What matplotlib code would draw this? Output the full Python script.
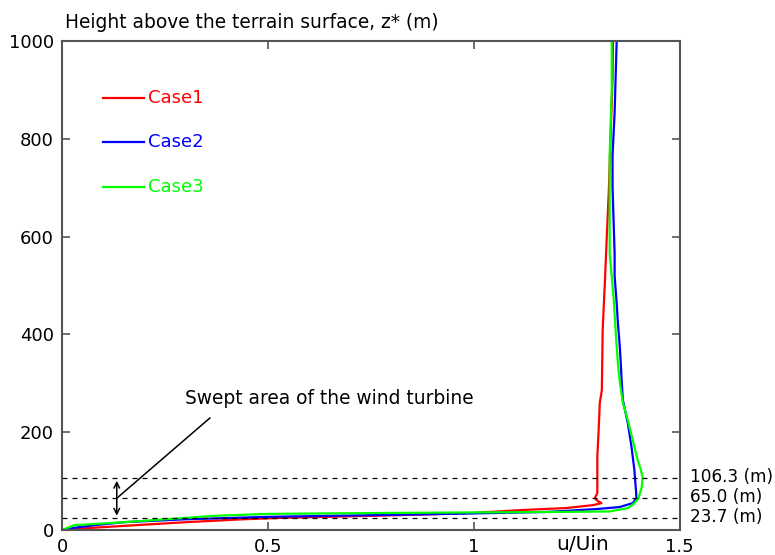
import matplotlib
matplotlib.use("Agg")
import matplotlib.pyplot as plt

# vertical wind profiles, u/Uin against height z* (m)
z1 = [0, 4, 10, 16, 22, 25, 29, 32, 35, 41, 45, 51, 55, 60, 65, 76, 102, 150, 200,
      260, 286, 409, 500, 600, 695, 800, 926, 1000]
u1 = [0, 0.063, 0.18, 0.30, 0.44, 0.54, 0.75, 0.89, 1.0, 1.12, 1.225, 1.29, 1.31,
      1.30, 1.294, 1.30, 1.30, 1.30, 1.303, 1.306, 1.311, 1.313, 1.318, 1.323,
      1.328, 1.332, 1.337, 1.338]

z2 = [0, 4, 10, 16, 22, 27, 31, 34, 37, 43, 47, 55, 65, 80, 100, 123, 170, 219, 266,
      307, 341, 382, 423, 464, 520, 566, 700, 767, 853, 1000]
u2 = [0, 0.025, 0.08, 0.15, 0.30, 0.50, 0.80, 1.0, 1.18, 1.30, 1.354, 1.386, 1.395,
      1.394, 1.392, 1.39, 1.383, 1.374, 1.362, 1.359, 1.357, 1.354, 1.35, 1.347,
      1.342, 1.342, 1.337, 1.337, 1.342, 1.347]

z3 = [0, 10, 16, 29, 33, 35, 36, 37, 38, 45, 55, 65, 88, 108, 125, 143, 184, 225,
      260, 307, 340, 400, 470, 500, 566, 767, 900, 1000]
u3 = [0, 0.03, 0.15, 0.37, 0.50, 0.80, 1.0, 1.2, 1.33, 1.375, 1.39, 1.40, 1.408,
      1.41, 1.405, 1.398, 1.386, 1.374, 1.362, 1.354, 1.35, 1.345, 1.34, 1.337,
      1.33, 1.33, 1.335, 1.335]

cases = ["Case1", "Case2", "Case3"]
colors = ["#ff0000", "#0000ff", "#00ff00"]
legend_z = [883, 793, 701]

hub_levels = [106.3, 65.0, 23.7]
hub_labels = ["106.3 (m)", "65.0 (m)", "23.7 (m)"]

fig = plt.figure(figsize=(7.75, 5.55), dpi=100)
ax = fig.add_axes([0.080, 0.045, 0.797, 0.881])

for u, z, c in zip([u1, u2, u3], [z1, z2, z3], colors):
    ax.plot(u, z, color=c, lw=1.6)

# hand-made legend
for name, c, zl in zip(cases, colors, legend_z):
    ax.plot([0.1, 0.2], [zl, zl], color=c, lw=1.6)
    ax.text(0.208, zl, name, color=c, fontsize=13, va="center", ha="left")

for h, lab in zip(hub_levels, hub_labels):
    ax.axhline(h, color="black", lw=0.9, ls=(0, (4, 4)))
    ax.text(1.524, h + 3, lab, fontsize=12.2, va="center", ha="left", clip_on=False)

ax.annotate("", xy=(0.133, hub_levels[2]), xytext=(0.133, hub_levels[0]),
            arrowprops=dict(arrowstyle="<->", color="black", lw=1.1))
ax.plot([0.133, 0.359], [65, 229], color="black", lw=1.1)
ax.text(0.2985, 270, "Swept area of the wind turbine", fontsize=13.4,
        va="center", ha="left")

ax.set_xlim(0, 1.5)
ax.set_ylim(0, 1000)
ax.set_xticks([0, 0.5, 1, 1.5])
ax.set_xticklabels(["0", "0.5", "1", "1.5"])
ax.set_yticks([0, 200, 400, 600, 800, 1000])
ax.tick_params(direction="in", length=6, width=1.2, color="#555555",
               top=True, right=True, labelsize=13, pad=6)
for s in ax.spines.values():
    s.set_color("#555555")
    s.set_linewidth(1.5)

fig.text(65 / 775, 1 - 22 / 555, "Height above the terrain surface, z* (m)",
         fontsize=13.4, va="center", ha="left")
fig.text(583 / 775, 1 - 545 / 555, "u/Uin", fontsize=14.5, va="center", ha="center")

fig.savefig("out.png", dpi=100)
